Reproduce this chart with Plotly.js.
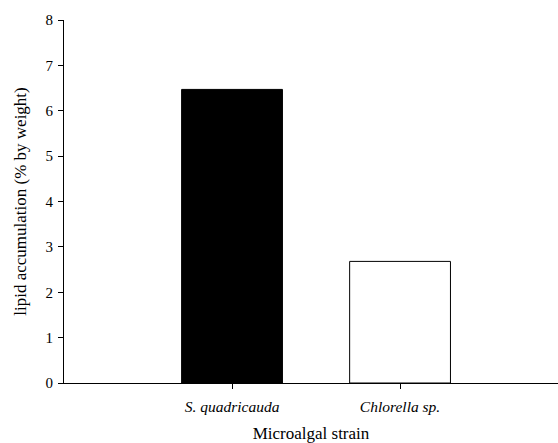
<!DOCTYPE html>
<html>
<head>
<meta charset="utf-8">
<script src="https://cdn.plot.ly/plotly-3.0.1.min.js"></script>
<style>html,body{margin:0;padding:0;background:#fff;}#chart{width:558px;height:443px;}</style>
</head>
<body>
<div id="chart"></div>
<script>
var categories = ["S. quadricauda", "Chlorella sp."];
var tickLabels = ["<i>S. quadricauda</i>", "<i>Chlorella sp.</i>"];
var lipidValues = [6.47, 2.68];
var barColors = ["#000000", "#ffffff"];

var serif = "Liberation Serif";

var trace = {
  type: "bar",
  x: [0, 1],
  y: lipidValues,
  width: 0.6,
  marker: {color: barColors, line: {color: "#000000", width: 1}},
  hoverinfo: "y"
};

var layout = {
  width: 558, height: 443,
  margin: {l: 64, r: 0, t: 20, b: 60},
  paper_bgcolor: "#ffffff", plot_bgcolor: "#ffffff",
  font: {family: serif, color: "#000000", size: 15},
  showlegend: false,
  xaxis: {
    range: [-1.0, 1.94],
    tickvals: [0, 1],
    ticktext: tickLabels,
    ticks: "outside", ticklen: 5, tickwidth: 1, tickcolor: "#000",
    ticklabelstandoff: 4,
    showline: true, linecolor: "#000", linewidth: 1,
    showgrid: false, zeroline: false,
    tickfont: {size: 15.5, family: serif},
    title: {text: "Microalgal strain", font: {size: 17, family: serif}, standoff: 19}
  },
  yaxis: {
    range: [0, 8],
    tickvals: [0, 1, 2, 3, 4, 5, 6, 7, 8],
    ticks: "outside", ticklen: 5, tickwidth: 1, tickcolor: "#000",
    ticklabelstandoff: 2,
    showline: true, linecolor: "#000", linewidth: 1,
    showgrid: false, zeroline: false,
    tickfont: {size: 15, family: serif},
    title: {text: "lipid accumulation (% by weight)", font: {size: 17, family: serif}, standoff: 14}
  }
};

Plotly.newPlot("chart", [trace], layout, {staticPlot: true, displayModeBar: false});
</script>
</body>
</html>
